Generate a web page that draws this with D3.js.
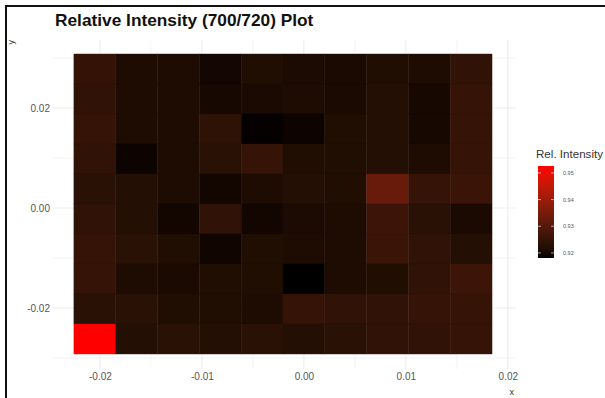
<!DOCTYPE html>
<html>
<head>
<meta charset="utf-8">
<script src="https://cdn.jsdelivr.net/npm/d3@7"></script>
<style>
  html, body { margin: 0; padding: 0; background: #fff; }
  svg { display: block; font-family: "Liberation Sans", Arial, sans-serif; }
</style>
</head>
<body>
<svg id="chart" width="605" height="398"></svg>
<script>
// Tile centres (x left→right, y top→bottom) and tile size
const xCenters = [-0.0205, -0.0164, -0.0123, -0.0082, -0.0041, 0.0000, 0.0041, 0.0082, 0.0123, 0.0164];
const yCenters = [0.0278, 0.0218, 0.0158, 0.0098, 0.0038, -0.0022, -0.0082, -0.0142, -0.0202, -0.0262];
const tileW = 0.0041;
const tileH = 0.006;

// Relative intensity (700/720), one row per y centre
const row0 = [0.9250, 0.9212, 0.9212, 0.9198, 0.9219, 0.9210, 0.9207, 0.9219, 0.9212, 0.9243];
const row1 = [0.9243, 0.9212, 0.9212, 0.9202, 0.9207, 0.9212, 0.9207, 0.9222, 0.9202, 0.9253];
const row2 = [0.9253, 0.9212, 0.9212, 0.9240, 0.9184, 0.9191, 0.9219, 0.9222, 0.9203, 0.9253];
const row3 = [0.9243, 0.9191, 0.9212, 0.9233, 0.9252, 0.9219, 0.9219, 0.9224, 0.9212, 0.9253];
const row4 = [0.9233, 0.9224, 0.9212, 0.9197, 0.9212, 0.9224, 0.9219, 0.9328, 0.9253, 0.9260];
const row5 = [0.9243, 0.9224, 0.9197, 0.9243, 0.9197, 0.9210, 0.9212, 0.9264, 0.9233, 0.9207];
const row6 = [0.9253, 0.9233, 0.9219, 0.9195, 0.9219, 0.9212, 0.9212, 0.9260, 0.9243, 0.9224];
const row7 = [0.9253, 0.9212, 0.9207, 0.9219, 0.9219, 0.9181, 0.9212, 0.9219, 0.9243, 0.9264];
const row8 = [0.9233, 0.9233, 0.9219, 0.9219, 0.9212, 0.9253, 0.9243, 0.9243, 0.9253, 0.9253];
const row9 = [0.9526, 0.9224, 0.9233, 0.9224, 0.9233, 0.9224, 0.9233, 0.9243, 0.9243, 0.9253];
const rows = [row0, row1, row2, row3, row4, row5, row6, row7, row8, row9];

const xTicks = [-0.02, -0.01, 0.00, 0.01, 0.02];
const yTicks = [-0.02, 0.00, 0.02];
const legendTicks = [0.92, 0.93, 0.94, 0.95];

const titleText = "Relative Intensity (700/720) Plot";
const legendTitle = "Rel. Intensity";

const cells = [];
rows.forEach((r, i) => r.forEach((v, j) => cells.push({ x: xCenters[j], y: yCenters[i], v })));

const svg = d3.select("#chart");
// plain hyphen for negative tick labels
const fmt = d3.formatLocale({ decimal: ".", thousands: ",", grouping: [3], currency: ["", ""], minus: "-" }).format(".2f");

// panel scales (expanded range around the tiles)
const x = d3.scaleLinear().domain([-0.0246, 0.0208]).range([53, 516]);
const y = d3.scaleLinear().domain([-0.0322, 0.0336]).range([369, 40]);

const vExt = d3.extent(cells, d => d.v);
const color = d3.scaleLinear().domain(vExt).range(["black", "red"]).interpolate(d3.interpolateLab);

// outer frame
svg.append("path").attr("d", "M6,400 L6,6 L607,6")
  .attr("fill", "none").attr("stroke", "#111").attr("stroke-width", 2);

// grid lines: minor then major
const gx = d3.range(-0.02, 0.0201, 0.005);
const gy = d3.range(-0.03, 0.0301, 0.01);
const grid = svg.append("g");
grid.selectAll("line.vx").data(gx).join("line")
  .attr("x1", d => x(d)).attr("x2", d => x(d))
  .attr("y1", y.range()[1]).attr("y2", y.range()[0])
  .attr("stroke", "#ebebeb")
  .attr("stroke-width", d => xTicks.some(t => Math.abs(t - d) < 1e-9) ? 1 : 0.6);
grid.selectAll("line.hy").data(gy).join("line")
  .attr("y1", d => y(d)).attr("y2", d => y(d))
  .attr("x1", x.range()[0]).attr("x2", x.range()[1])
  .attr("stroke", "#ebebeb")
  .attr("stroke-width", d => yTicks.some(t => Math.abs(t - d) < 1e-9) ? 1 : 0.6);

// tiles
svg.append("g").selectAll("rect").data(cells).join("rect")
  .attr("x", d => x(d.x - tileW / 2))
  .attr("y", d => y(d.y + tileH / 2))
  .attr("width", d => x(d.x + tileW / 2) - x(d.x - tileW / 2))
  .attr("height", d => y(d.y - tileH / 2) - y(d.y + tileH / 2))
  .attr("fill", d => color(d.v))
  .attr("stroke", d => color(d.v)).attr("stroke-width", 0.4);

// axes
const xAxis = d3.axisBottom(x).tickValues(xTicks).tickFormat(fmt).tickSize(0).tickPadding(0);
const gxa = svg.append("g").attr("transform", "translate(0,373)").call(xAxis);
const yAxis = d3.axisLeft(y).tickValues(yTicks).tickFormat(fmt).tickSize(0).tickPadding(0);
const gya = svg.append("g").attr("transform", "translate(50,0)").call(yAxis);
[gxa, gya].forEach(g => {
  g.select(".domain").remove();
  g.selectAll("text").attr("fill", "#555").attr("font-size", 10)
    .attr("font-family", "Liberation Sans, Arial, sans-serif");
});
gxa.selectAll("text").attr("dy", "0.71em");

// axis titles
svg.append("text").attr("x", 514).attr("y", 395).attr("text-anchor", "end")
  .attr("font-size", 9).attr("fill", "#333").text("x");
svg.append("text").attr("transform", "translate(14,40) rotate(-90)").attr("text-anchor", "end")
  .attr("font-size", 9).attr("fill", "#333").text("y");

// title
svg.append("text").attr("x", 55).attr("y", 26)
  .attr("font-size", 17.3).attr("font-weight", "bold").attr("fill", "#111").text(titleText);

// legend colour bar
const lx = 538, lw = 16;
const ly = d3.scaleLinear().domain(vExt).range([258, 166]);
const defs = svg.append("defs");
const grad = defs.append("linearGradient").attr("id", "lg").attr("x1", 0).attr("y1", 1).attr("x2", 0).attr("y2", 0);
d3.range(0, 1.0001, 0.05).forEach(t => {
  grad.append("stop").attr("offset", t).attr("stop-color", color(vExt[0] + t * (vExt[1] - vExt[0])));
});
svg.append("rect").attr("x", lx).attr("y", ly(vExt[1])).attr("width", lw)
  .attr("height", ly(vExt[0]) - ly(vExt[1])).attr("fill", "url(#lg)");
const lt = svg.append("g");
lt.selectAll("line.l").data(legendTicks).join("line")
  .attr("x1", lx).attr("x2", lx + 3).attr("y1", d => ly(d)).attr("y2", d => ly(d))
  .attr("stroke", "#fff").attr("stroke-width", 0.6);
lt.selectAll("line.r").data(legendTicks).join("line")
  .attr("x1", lx + lw - 3).attr("x2", lx + lw).attr("y1", d => ly(d)).attr("y2", d => ly(d))
  .attr("stroke", "#fff").attr("stroke-width", 0.6);
lt.selectAll("text").data(legendTicks).join("text")
  .attr("x", lx + lw + 9).attr("y", d => ly(d)).attr("dy", "0.35em")
  .attr("font-size", 5.5).attr("fill", "#555").text(d => d3.format(".2f")(d));
svg.append("text").attr("x", 536).attr("y", 158)
  .attr("font-size", 10).attr("fill", "#333")
  .attr("textLength", 67).attr("lengthAdjust", "spacingAndGlyphs").text(legendTitle);
</script>
</body>
</html>
